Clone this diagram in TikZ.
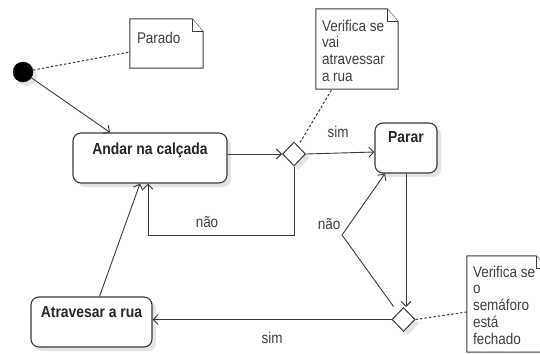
\documentclass[tikz,border=0pt]{standalone}
\usepackage{fontspec}
\setmainfont{Liberation Sans}[FakeStretch=0.87]
\usetikzlibrary{arrows.meta,shapes.geometric,shadows}
\definecolor{ln}{HTML}{3A3A3A}
\definecolor{tx}{HTML}{404040}
\definecolor{sh}{HTML}{E4E4E4}
\newcommand\notebox[1]{%
  \draw[notel] (#1.north west) -- ([xshift=-11pt]#1.north east) -- ([yshift=-13pt]#1.north east) -- (#1.south east) -- (#1.south west) -- cycle;
  \draw[notel] ([xshift=-11pt]#1.north east) -- ([xshift=-11pt,yshift=-13pt]#1.north east) -- ([yshift=-13pt]#1.north east);}
\begin{document}
\begin{tikzpicture}[x=1pt,y=-1pt,
  shad/.style={drop shadow={shadow xshift=4pt,shadow yshift=-4pt,fill=sh,opacity=1}},
  state/.style={draw=ln,line width=1.1pt,rounded corners=8pt,fill=white,shad,inner sep=0pt,minimum height=50pt},
  dec/.style={diamond,draw=ln,line width=1pt,fill=white,shad,inner sep=0pt,minimum width=23pt,minimum height=24pt},
  notebg/.style={rectangle,inner sep=0pt},
  notel/.style={draw=ln,line width=1pt,fill=white},
  stxt/.style={text=black!85,font=\fontsize{16}{18}\selectfont\bfseries,inner sep=0pt,anchor=north},
  ntxt/.style={text=tx,font=\fontsize{15.5}{16.7}\selectfont,inner sep=0pt,anchor=north west,align=left},
  lbl/.style={text=tx,font=\fontsize{15.5}{16.7}\selectfont,inner sep=0pt,anchor=base},
  arr/.style={draw=ln,line width=0.9pt,-{Straight Barb[length=5pt,width=10pt]}},
  dots/.style={draw=ln,line width=1pt,dash pattern=on 2.5pt off 2pt}]
\clip (0,0) rectangle (540,353);
\useasboundingbox (0,0) rectangle (540,353);

% notes
\node[notebg,minimum width=73pt,minimum height=49pt] (parado) at (166.5,43.5) {};
\notebox{parado}
\node[ntxt] (paradoT) at ([shift={(7pt,-13pt)}]parado.north west) {Parado};

\node[notebg,minimum width=82pt,minimum height=80pt] (note1) at (357,49) {};
\notebox{note1}
\node[ntxt] (note1T) at ([shift={(6pt,-11pt)}]note1.north west) {Verifica se\\vai\\atravessar\\a rua};

\node[notebg,minimum width=80pt,minimum height=96pt] (note2) at (507,304) {};
\notebox{note2}
\node[ntxt] (note2T) at ([shift={(6pt,-10pt)}]note2.north west) {Verifica se\\o\\semáforo\\está\\fechado};

% initial
\node[circle,fill=black,draw=black,inner sep=0pt,minimum size=20pt,shad] (dot) at (23,72) {};

% states
\node[state,minimum width=154pt] (andar) at (150,158) {};
\node[stxt] (andarT) at ([yshift=-10pt]andar.north) {Andar na calçada};
\node[state,minimum width=62pt] (parar) at (406,148) {};
\node[stxt] (pararT) at ([yshift=-9pt]parar.north) {Parar};
\node[state,minimum width=121pt] (atr) at (91.5,322) {};
\node[stxt] (atrT) at ([yshift=-10pt]atr.north) {Atravesar a rua};

% decisions
\node[dec] (d1) at (294,154) {};
\node[dec] (d2) at (403.5,319.5) {};

\coordinate (c1) at (148,235);
\coordinate (c2) at (342,235);

% connectors
\draw[dots] (dot) -- ([yshift=-8.5pt]parado.west);
\draw[arr] (dot) -- ([xshift=-40pt]andar.north);
\draw[arr] (andar.east |- d1.west) -- (d1.west);
\draw[dots] ([shift={(6pt,-1pt)}]d1.north) -- ([xshift=-25pt]note1.south);
\draw[arr] (d1.east) -- ([yshift=-4pt]parar.west);
\draw[arr] (d1.south) |- (c1) -- (c1 |- andar.south);
\draw[arr] ([xshift=8pt]atr.north) -- ([xshift=-10pt]andar.south);
\draw[arr] (parar.south) -- (parar.south |- d2.north);
\draw[arr] ([shift={(-10pt,13pt)}]d2.center) -- (c2) -- ([xshift=-21pt]parar.south);
\draw[arr] (d2.west) -- (d2.west -| atr.east);
\draw[dots] (d2.east) -- ([yshift=-8pt]note2.west);

% labels
\node[lbl] (lsim1) at (338,137) {sim};
\node[lbl] (lnao1) at (207,227) {não};
\node[lbl] (lnao2) at (329,229) {não};
\node[lbl] (lsim2) at (272,343) {sim};
\end{tikzpicture}
\end{document}
